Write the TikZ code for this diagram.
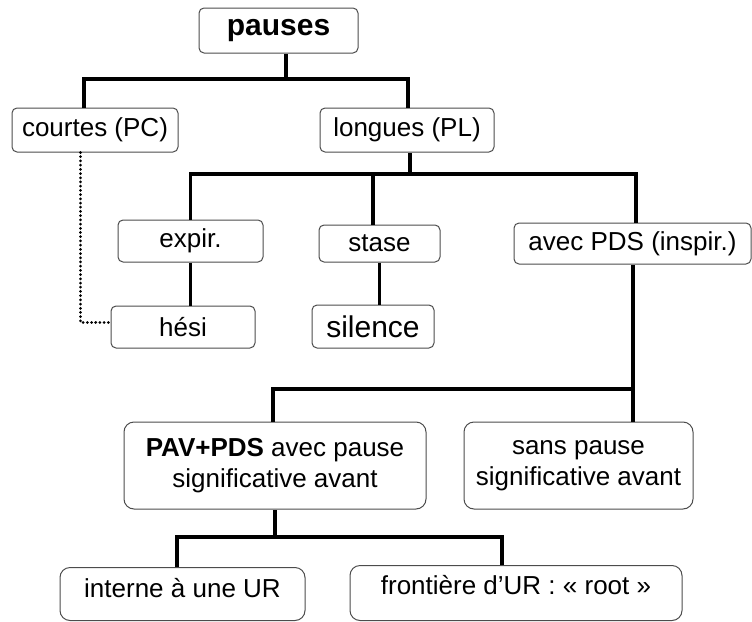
\documentclass[tikz,border=0pt]{standalone}
\usepackage{fontspec}
\setmainfont{Liberation Sans}
\usetikzlibrary{calc}
\tikzset{
  box/.style={draw=black!70, line width=1pt, rounded corners=5pt, inner xsep=0pt, inner ysep=4pt, align=center, font=\fontsize{26pt}{31pt}\selectfont},
  bigbox/.style={box, rounded corners=10pt},
  link/.style={line width=3.5pt},
  dotlink/.style={line width=3pt, line cap=round, dash pattern=on 0.01pt off 4.2pt}
}

\begin{document}
\begin{tikzpicture}[x=1pt, y=-1pt]
  \useasboundingbox (0,0) rectangle (752,621);
  % top of the tree
  \node[box, minimum width=159pt, minimum height=45pt, font=\fontsize{30pt}{34pt}\selectfont\bfseries] (pauses) at (278.5,30.5) {pauses};
  \node[box, minimum width=166pt, minimum height=44pt] (courtes) at (95,130) {courtes (PC)};
  \node[box, minimum width=174pt, minimum height=44pt] (longues) at (407,130) {longues (PL)};
  % kinds of long pauses
  \node[box, minimum width=145pt, minimum height=42pt] (expir) at (190.5,241) {expir.};
  \node[box, minimum width=121pt, minimum height=37pt] (stase) at (379.5,243.5) {stase};
  \node[box, minimum width=237pt, minimum height=41pt] (avec) at (632.5,243.5) {avec PDS (inspir.)};
  \node[box, minimum width=144pt, minimum height=42pt] (hesi) at (183,327) {hési};
  \node[box, minimum width=122pt, minimum height=43pt, font=\fontsize{30pt}{34pt}\selectfont] (silence) at (373,326.5) {silence};
  % inspiratory pauses
  \node[bigbox, minimum width=302pt, minimum height=87pt] (pav) at (275,465.5) {\textbf{PAV+PDS} avec pause\\significative avant};
  \node[bigbox, minimum width=229pt, minimum height=87pt] (sans) at (578.5,465.5) {sans pause\\significative avant};
  \node[bigbox, minimum width=245pt, text height=26pt, text depth=19pt, anchor=north] (interne) at (182.5,567) {interne à une UR};
  \node[bigbox, minimum width=332pt, text height=25pt, text depth=22pt, anchor=north] (frontiere) at (516,565) {frontière d’UR : « root »};

  % connectors
  \coordinate (jp) at (286,79);
  \draw[link] (jp) -- (jp |- pauses.south);
  \draw[link] ([xshift=-11pt]courtes.north) |- (jp) -| ([xshift=1pt]longues.north);
  \coordinate (jl) at (410,174);
  \draw[link] (jl) -- (jl |- longues.south);
  \draw[link] (expir.north) |- (jl) -| ([xshift=3.5pt]avec.north);
  \draw[link] ([xshift=-6.5pt]stase.north) -- ([xshift=-6.5pt]stase.north |- jl);
  \draw[link] (expir.south) -- (expir.south |- hesi.north);
  \draw[link] (stase.south) -- (stase.south |- silence.north);
  \draw[dotlink] ([xshift=-15pt]courtes.south) |- ([yshift=5pt]hesi.west);
  \coordinate (ja) at (633,389);
  \draw[link] (ja) -- (ja |- avec.south);
  \draw[link] ([xshift=-2pt]pav.north) |- (ja) -- (ja |- sans.north);
  \coordinate (jv) at (275,537);
  \draw[link] (jv) -- (pav.south);
  \draw[link] ([xshift=-5.5pt]interne.north) |- (jv) -| ([xshift=-14pt]frontiere.north);
\end{tikzpicture}
\end{document}
